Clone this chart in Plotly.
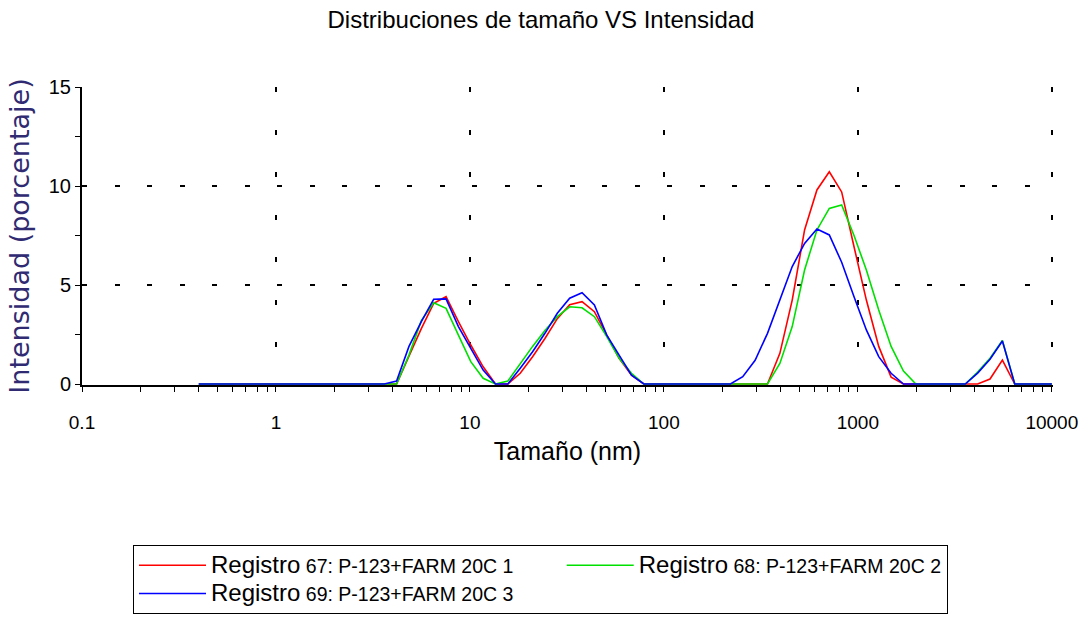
import plotly.graph_objects as go

# Size classes (nm) of the instrument
sizes_nm = [0.4, 0.4632, 0.5365, 0.6213, 0.7195, 0.8332, 0.9649, 1.117, 1.294, 1.499,
            1.736, 2.010, 2.328, 2.696, 3.122, 3.615, 4.187, 4.849, 5.615, 6.503,
            7.531, 8.721, 10.10, 11.70, 13.54, 15.69, 18.17, 21.04, 24.36, 28.21,
            32.67, 37.84, 43.82, 50.75, 58.77, 68.06, 78.82, 91.28, 105.7, 122.4,
            141.8, 164.2, 190.1, 220.2, 255.0, 295.3, 342.0, 396.1, 458.7, 531.2,
            615.1, 712.4, 825.0, 955.4, 1106, 1281, 1484, 1718, 1990, 2305,
            2669, 3091, 3580, 4145, 4801, 5560, 6439, 7456, 8635, 10000]

reg67 = [0, 0, 0, 0, 0, 0, 0, 0, 0, 0,
         0, 0, 0, 0, 0, 0, 0, 1.4, 2.8, 4.07,
         4.41, 3.15, 1.97, 0.87, 0, 0, 0.54, 1.38, 2.3, 3.3,
         4.0, 4.16, 3.65, 2.47, 1.3, 0.45, 0, 0, 0, 0,
         0, 0, 0, 0, 0, 0, 0, 1.55, 4.24, 7.78,
         9.8, 10.72, 9.7, 6.93, 4.24, 1.9, 0.35, 0, 0, 0,
         0, 0, 0, 0, 0.25, 1.21, 0, 0, 0, 0]

reg68 = [0, 0, 0, 0, 0, 0, 0, 0, 0, 0,
         0, 0, 0, 0, 0, 0, 0, 1.46, 3.2, 4.1,
         3.82, 2.47, 1.13, 0.29, 0, 0.15, 1.04, 1.9, 2.7, 3.4,
         3.9, 3.85, 3.4, 2.4, 1.3, 0.54, 0, 0, 0, 0,
         0, 0, 0, 0, 0, 0, 0, 1.04, 2.9, 5.76,
         7.78, 8.87, 9.04, 7.5, 5.76, 3.74, 1.9, 0.65, 0, 0,
         0, 0, 0, 0.6, 1.3, 2.2, 0, 0, 0, 0]

reg69 = [0, 0, 0, 0, 0, 0, 0, 0, 0, 0,
         0, 0, 0, 0, 0, 0, 0.15, 1.9, 3.15, 4.28,
         4.3, 2.9, 1.8, 0.7, 0, 0, 0.8, 1.63, 2.56, 3.57,
         4.33, 4.61, 3.99, 2.47, 1.46, 0.45, 0, 0, 0, 0,
         0, 0, 0, 0, 0.37, 1.2, 2.56, 4.24, 5.93, 7.1,
         7.83, 7.53, 6.15, 4.41, 2.73, 1.38, 0.54, 0, 0, 0,
         0, 0, 0, 0.55, 1.25, 2.17, 0, 0, 0, 0]

series_labels = ["67: P-123+FARM 20C 1", "68: P-123+FARM 20C 2", "69: P-123+FARM 20C 3"]
series_colors = ["#ff0000", "#00e000", "#0000ff"]
label_pad = ["&nbsp;" * 8, "", ""]

x_tick_vals = [0.1, 1, 10, 100, 1000, 10000]
x_tick_text = ["0.1", "1", "10", "100", "1000", "10000"]
x_minor_vals = [m * d for d in [0.1, 1, 10, 100, 1000] for m in range(2, 10)]
y_tick_vals = [0, 5, 10, 15]

FONT = "Liberation Sans, Arial, sans-serif"

fig = go.Figure()
for vals, lab, col, pad in zip([reg67, reg68, reg69], series_labels, series_colors, label_pad):
    fig.add_trace(go.Scatter(
        x=sizes_nm, y=vals, mode="lines",
        line=dict(color=col, width=1.6),
        name="<span style='font-size:24px'>Registro</span> " + lab + pad,
    ))

fig.update_layout(
    width=1082, height=622,
    margin=dict(l=82, r=29, t=87, b=237, autoexpand=False),
    paper_bgcolor="white", plot_bgcolor="white",
    title=dict(text="Distribuciones de tamaño VS Intensidad",
               x=0.5, xanchor="center", y=0.968, yanchor="middle",
               font=dict(family=FONT, size=24, color="black")),
    font=dict(family=FONT, color="black"),
    showlegend=True,
    legend=dict(orientation="h",
                xref="container", x=133 / 1082, xanchor="left",
                yref="container", y=1 - 545 / 622, yanchor="top",
                bordercolor="black", borderwidth=1, bgcolor="white",
                font=dict(family=FONT, size=19.5, color="black"),
                itemwidth=67, tracegroupgap=0),
)

fig.update_xaxes(
    type="log", range=[-1, 4.006], automargin=False,
    tickmode="array", tickvals=x_tick_vals, ticktext=x_tick_text,
    ticks="outside", ticklen=5, tickwidth=1, tickcolor="black",
    ticklabelstandoff=14, ticklabeloverflow="allow",
    tickfont=dict(family=FONT, size=19, color="black"),
    minor=dict(tickmode="array", tickvals=x_minor_vals, ticks="outside",
               ticklen=5, tickwidth=1, tickcolor="black", showgrid=False),
    showline=True, linecolor="black", linewidth=2, mirror=False,
    showgrid=True, gridcolor="black", gridwidth=1.5, griddash="5px,37.5px",
    zeroline=False, layer="below traces",
    title=dict(text="Tamaño (nm)", standoff=11,
               font=dict(family=FONT, size=25, color="black")),
)

fig.update_yaxes(
    range=[-0.05, 15], automargin=False,
    tickmode="array", tickvals=y_tick_vals,
    ticks="outside", ticklen=5, tickwidth=1, tickcolor="black",
    tickfont=dict(family=FONT, size=20, color="black"),
    minor=dict(dtick=2.5, tick0=0, ticks="outside", ticklen=5, tickwidth=1,
               tickcolor="black", showgrid=False),
    showline=True, linecolor="black", linewidth=2, mirror=False,
    showgrid=True, gridcolor="black", gridwidth=1.5, griddash="5px,27.5px",
    zeroline=False, layer="below traces",
    title=dict(text="Intensidad (porcentaje)", standoff=11,
               font=dict(family="DejaVu Sans, sans-serif", size=27, color="#2f2a72")),
)

fig.write_html("out.html")
